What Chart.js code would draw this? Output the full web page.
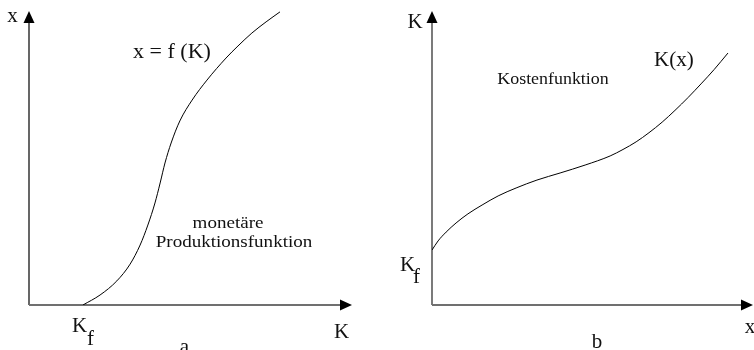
<!DOCTYPE html>
<html>
<head>
<meta charset="utf-8">
<script src="https://cdn.jsdelivr.net/npm/chart.js@4/dist/chart.umd.min.js"></script>
<style>
  html, body { margin: 0; padding: 0; background: #fff; }
  #wrap { position: relative; width: 754px; height: 350px; overflow: hidden; }
  canvas { position: absolute; top: 0; }
</style>
</head>
<body>
<div id="wrap">
  <canvas id="cA" width="380" height="350" style="left:0"></canvas>
  <canvas id="cB" width="374" height="350" style="left:380px"></canvas>
</div>
<script>
// Panel a: monetäre Produktionsfunktion x = f(K)
const panelA_K = [16.7, 22.0, 27.2, 31.3, 34.4, 36.8, 39.0, 40.6, 42.1, 44.0, 46.7, 50.5, 55.1, 61.0, 64.7, 69.0, 73.4, 77.7];
const panelA_x = [0, 3.4, 8.2, 13.9, 20.4, 27.2, 34.7, 41.5, 48.3, 55.1, 62.6, 69.7, 76.5, 84.0, 88.1, 92.5, 96.3, 99.7];
// Panel b: Kostenfunktion K(x)
const panelB_x = [0, 1.9, 4.4, 7.5, 11.2, 15.6, 20.6, 26.2, 32.7, 39.9, 47.7, 55.5, 59.5, 63.6, 67.6, 71.7, 75.7, 79.8, 83.8, 87.9, 92.2];
const panelB_K = [18.7, 21.8, 24.8, 27.9, 31.0, 34.0, 37.1, 39.8, 42.5, 44.9, 47.6, 50.7, 52.9, 55.5, 58.6, 62.2, 66.2, 70.6, 75.2, 80.1, 85.7];

const SERIF = '"Liberation Serif", "Times New Roman", serif';
const INK = '#111';

function toPoints(xs, ys) { return xs.map((v, i) => ({ x: v, y: ys[i] })); }

function arrowAxes(chart, yColor, yWidth, xColor, xWidth) {
  const ctx = chart.ctx;
  const xs = chart.scales.x, ys = chart.scales.y;
  const x0 = xs.getPixelForValue(0), y0 = ys.getPixelForValue(0);
  const top = chart.chartArea.top, right = chart.chartArea.right;
  ctx.save();
  ctx.strokeStyle = yColor; ctx.lineWidth = yWidth;
  ctx.beginPath(); ctx.moveTo(x0, y0); ctx.lineTo(x0, top + 10); ctx.stroke();
  ctx.fillStyle = '#000';
  ctx.beginPath(); ctx.moveTo(x0, top); ctx.lineTo(x0 - 5.5, top + 12); ctx.lineTo(x0 + 5.5, top + 12); ctx.closePath(); ctx.fill();
  ctx.strokeStyle = xColor; ctx.lineWidth = xWidth;
  ctx.beginPath(); ctx.moveTo(x0, y0); ctx.lineTo(right - 10, y0); ctx.stroke();
  ctx.beginPath(); ctx.moveTo(right, y0); ctx.lineTo(right - 12, y0 - 5.5); ctx.lineTo(right - 12, y0 + 5.5); ctx.closePath(); ctx.fill();
  ctx.restore();
}

function txt(ctx, s, x, y, size, align, sx) {
  ctx.save();
  ctx.font = size + 'px ' + SERIF;
  ctx.fillStyle = INK;
  ctx.textAlign = align || 'left';
  ctx.textBaseline = 'alphabetic';
  ctx.translate(x, y);
  ctx.scale(sx || 1, 1);
  ctx.fillText(s, 0, 0);
  ctx.restore();
}

function baseOptions(pad) {
  return {
    responsive: false,
    animation: false,
    devicePixelRatio: 1,
    layout: { padding: pad },
    plugins: { legend: { display: false }, tooltip: { enabled: false } },
    scales: {
      x: { type: 'linear', min: 0, max: 100, display: false },
      y: { type: 'linear', min: 0, max: 100, display: false }
    }
  };
}

const lineStyle = {
  showLine: true, borderColor: '#000', borderWidth: 1, pointRadius: 0,
  cubicInterpolationMode: 'monotone', fill: false
};

new Chart(document.getElementById('cA'), {
  type: 'scatter',
  data: { datasets: [Object.assign({ label: 'x = f (K)', data: toPoints(panelA_K, panelA_x) }, lineStyle)] },
  options: baseOptions({ left: 29, right: 28, top: 11, bottom: 45 }),
  plugins: [{
    id: 'decorA',
    beforeDatasetsDraw(chart) { arrowAxes(chart, '#000', 1.2, '#707070', 2); },
    afterDraw(chart) {
      const c = chart.ctx;
      txt(c, 'x', 12.5, 22, 21, 'center');
      txt(c, 'x = f (K)', 172, 58, 22, 'center', 1.0);
      txt(c, 'monetäre', 228, 228, 17, 'center', 1.12);
      txt(c, 'Produktionsfunktion', 234, 247, 17, 'center', 1.12);
      txt(c, 'K', 72, 332, 21, 'left');
      txt(c, 'f', 87, 345, 21, 'left');
      txt(c, 'K', 341.5, 338, 21, 'center');
      txt(c, 'a', 184.5, 353, 21, 'center');
    }
  }]
});

new Chart(document.getElementById('cB'), {
  type: 'scatter',
  data: { datasets: [Object.assign({ label: 'K(x)', data: toPoints(panelB_x, panelB_K) }, lineStyle)] },
  options: baseOptions({ left: 52, right: 1, top: 11, bottom: 45 }),
  plugins: [{
    id: 'decorB',
    beforeDatasetsDraw(chart) { arrowAxes(chart, '#222', 1.2, '#707070', 2); },
    afterDraw(chart) {
      const c = chart.ctx;
      txt(c, 'K', 35, 28, 21, 'center');
      txt(c, 'K(x)', 274, 66, 21, 'left');
      txt(c, 'Kostenfunktion', 173, 84, 16, 'center', 1.12);
      txt(c, 'K', 20, 271, 21, 'left');
      txt(c, 'f', 33, 283, 21, 'left');
      txt(c, 'x', 370, 333, 21, 'center');
      txt(c, 'b', 217, 348, 21, 'center');
    }
  }]
});
</script>
</body>
</html>
